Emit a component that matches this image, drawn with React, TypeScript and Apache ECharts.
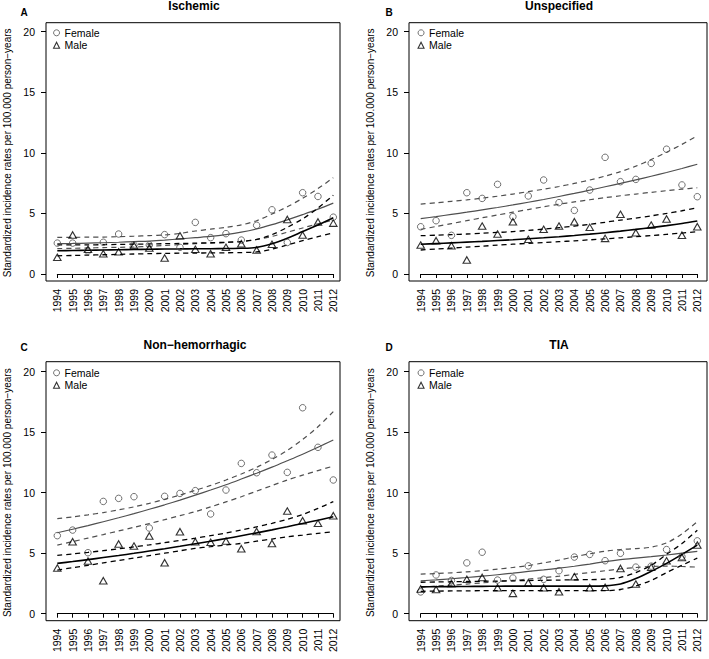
import React, { useEffect, useRef } from "react";
import * as echarts from "echarts";

const years = [1994, 1995, 1996, 1997, 1998, 1999, 2000, 2001, 2002, 2003, 2004, 2005, 2006, 2007, 2008, 2009, 2010, 2011, 2012];
const yTicks = [0, 5, 10, 15, 20];
const panelTitles = ["Ischemic", "Unspecified", "Non\u2212hemorrhagic", "TIA"];
const panelLetters = ["A", "B", "C", "D"];
const yAxisTitle = "Standardized incidence rates per 100.000 person\u2212years";
const legendNames = ["Female", "Male"];

// A: Ischemic
const femaleA = [2.55, 2.55, 1.9, 2.62, 3.3, 2.4, 2.4, 3.25, 2.2, 4.26, 3.0, 3.33, 2.8, 4.02, 5.3, 2.6, 6.71, 6.4, 4.69];
const maleA = [1.38, 3.22, 2.04, 1.68, 1.83, 2.36, 2.15, 1.32, 3.15, 2.04, 1.68, 2.2, 2.5, 1.98, 2.45, 4.5, 3.22, 4.3, 4.2];
const femaleFitA = [2.5, 2.52, 2.55, 2.58, 2.62, 2.67, 2.72, 2.8, 2.9, 3.0, 3.1, 3.25, 3.45, 3.72, 4.07, 4.47, 4.9, 5.35, 5.85];
const femaleUpA = [3.03, 3.03, 3.04, 3.05, 3.08, 3.12, 3.17, 3.22, 3.35, 3.55, 3.7, 3.85, 4.05, 4.4, 4.95, 5.55, 6.25, 7.05, 7.95];
const femaleLoA = [2.1, 2.12, 2.15, 2.18, 2.2, 2.23, 2.28, 2.35, 2.42, 2.5, 2.55, 2.6, 2.7, 2.85, 3.1, 3.45, 3.8, 4.15, 4.45];
const maleFitA = [1.92, 1.94, 1.96, 1.98, 2.0, 2.02, 2.04, 2.06, 2.07, 2.08, 2.09, 2.1, 2.12, 2.2, 2.5, 2.95, 3.5, 4.05, 4.65];
const maleUpA = [2.4, 2.4, 2.4, 2.42, 2.44, 2.46, 2.48, 2.5, 2.52, 2.55, 2.58, 2.62, 2.68, 2.85, 3.25, 3.85, 4.55, 5.45, 6.5];
const maleLoA = [1.5, 1.53, 1.56, 1.59, 1.62, 1.65, 1.68, 1.7, 1.72, 1.73, 1.74, 1.75, 1.77, 1.82, 2.05, 2.4, 2.75, 3.08, 3.4];

// B: Unspecified
const femaleB = [3.9, 4.4, 3.19, 6.71, 6.24, 7.4, 4.73, 6.44, 7.76, 5.89, 5.25, 6.93, 9.63, 7.62, 7.81, 9.13, 10.3, 7.35, 6.38];
const maleB = [2.39, 2.75, 2.34, 1.16, 3.96, 3.3, 4.32, 2.86, 3.69, 3.96, 4.32, 3.85, 2.94, 4.93, 3.41, 4.04, 4.54, 3.2, 3.9];
const femaleFitB = [4.57, 4.74, 4.92, 5.1, 5.29, 5.49, 5.7, 5.92, 6.15, 6.4, 6.65, 6.92, 7.2, 7.48, 7.77, 8.07, 8.38, 8.71, 9.06];
const femaleUpB = [5.77, 5.88, 6.0, 6.12, 6.26, 6.42, 6.6, 6.8, 7.0, 7.22, 7.48, 7.76, 8.08, 8.45, 8.9, 9.45, 10.05, 10.7, 11.4];
const femaleLoB = [3.68, 3.92, 4.16, 4.4, 4.64, 4.87, 5.1, 5.32, 5.55, 5.76, 5.95, 6.13, 6.3, 6.46, 6.6, 6.74, 6.88, 7.0, 7.12];
const maleFitB = [2.45, 2.51, 2.57, 2.63, 2.69, 2.76, 2.83, 2.91, 2.99, 3.08, 3.18, 3.29, 3.41, 3.54, 3.68, 3.83, 3.99, 4.17, 4.38];
const maleUpB = [3.16, 3.2, 3.25, 3.3, 3.36, 3.43, 3.5, 3.6, 3.7, 3.82, 3.95, 4.1, 4.27, 4.45, 4.62, 4.8, 5.0, 5.22, 5.47];
const maleLoB = [1.98, 2.06, 2.14, 2.22, 2.3, 2.38, 2.46, 2.53, 2.6, 2.67, 2.74, 2.82, 2.9, 2.99, 3.08, 3.17, 3.27, 3.38, 3.49];

// C: Non-hemorrhagic
const femaleC = [6.45, 6.91, 5.04, 9.28, 9.53, 9.67, 7.08, 9.7, 9.94, 10.17, 8.24, 10.22, 12.42, 11.65, 13.11, 11.68, 17.02, 13.75, 11.05];
const maleC = [3.77, 5.95, 4.35, 2.73, 5.76, 5.59, 6.42, 4.21, 6.78, 5.95, 5.9, 6.0, 5.37, 6.8, 5.81, 8.48, 7.69, 7.47, 8.1];
const femaleFitC = [6.69, 6.98, 7.28, 7.6, 7.93, 8.27, 8.63, 9.0, 9.39, 9.8, 10.22, 10.66, 11.13, 11.61, 12.11, 12.64, 13.18, 13.75, 14.35];
const femaleUpC = [7.85, 8.0, 8.17, 8.36, 8.58, 8.83, 9.12, 9.45, 9.8, 10.2, 10.6, 11.05, 11.55, 12.1, 12.75, 13.5, 14.4, 15.45, 16.7];
const femaleLoC = [5.67, 5.96, 6.25, 6.54, 6.84, 7.14, 7.45, 7.77, 8.1, 8.43, 8.83, 9.24, 9.67, 10.13, 10.59, 11.05, 11.45, 11.83, 12.2];
const maleFitC = [4.16, 4.31, 4.47, 4.64, 4.81, 4.99, 5.18, 5.37, 5.57, 5.78, 5.99, 6.21, 6.44, 6.68, 6.93, 7.19, 7.46, 7.73, 8.02];
const maleUpC = [4.82, 4.94, 5.07, 5.21, 5.36, 5.52, 5.69, 5.87, 6.05, 6.24, 6.45, 6.67, 6.91, 7.18, 7.47, 7.8, 8.2, 8.7, 9.26];
const maleLoC = [3.61, 3.8, 4.0, 4.2, 4.4, 4.6, 4.8, 5.0, 5.2, 5.4, 5.54, 5.68, 5.81, 5.99, 6.17, 6.36, 6.5, 6.64, 6.78];

// D: TIA
const femaleD = [1.8, 3.2, 2.75, 4.2, 5.08, 2.78, 2.95, 3.95, 2.84, 3.55, 4.68, 4.9, 4.38, 4.99, 3.85, 3.93, 5.3, 4.72, 6.02];
const maleD = [2.05, 2.0, 2.5, 2.84, 3.0, 2.15, 1.68, 2.55, 2.15, 1.82, 3.06, 2.15, 2.18, 3.74, 2.45, 3.83, 4.37, 4.65, 5.67];
const femaleFitD = [2.72, 2.8, 2.89, 2.99, 3.1, 3.22, 3.35, 3.49, 3.62, 3.76, 3.92, 4.1, 4.3, 4.47, 4.6, 4.72, 4.85, 5.0, 5.15];
const femaleUpD = [3.27, 3.32, 3.38, 3.46, 3.56, 3.68, 3.82, 3.98, 4.2, 4.43, 4.7, 4.95, 5.17, 5.3, 5.38, 5.5, 5.85, 6.6, 7.6];
const femaleLoD = [2.2, 2.28, 2.36, 2.45, 2.55, 2.65, 2.75, 2.86, 2.98, 3.1, 3.25, 3.4, 3.55, 3.7, 3.82, 3.9, 3.93, 3.9, 3.85];
const maleFitD = [2.22, 2.23, 2.24, 2.25, 2.26, 2.27, 2.28, 2.28, 2.28, 2.28, 2.28, 2.28, 2.3, 2.45, 2.9, 3.5, 4.16, 4.9, 5.67];
const maleUpD = [2.6, 2.62, 2.64, 2.66, 2.68, 2.7, 2.72, 2.74, 2.76, 2.78, 2.8, 2.82, 2.85, 3.0, 3.4, 4.0, 4.9, 5.8, 6.9];
const maleLoD = [1.85, 1.87, 1.88, 1.89, 1.9, 1.9, 1.9, 1.9, 1.9, 1.9, 1.9, 1.9, 1.9, 2.0, 2.3, 2.75, 3.4, 4.0, 4.6];

const panels = [
  { f: femaleA, m: maleA, ff: femaleFitA, fu: femaleUpA, fl: femaleLoA, mf: maleFitA, mu: maleUpA, ml: maleLoA },
  { f: femaleB, m: maleB, ff: femaleFitB, fu: femaleUpB, fl: femaleLoB, mf: maleFitB, mu: maleUpB, ml: maleLoB },
  { f: femaleC, m: maleC, ff: femaleFitC, fu: femaleUpC, fl: femaleLoC, mf: maleFitC, mu: maleUpC, ml: maleLoC },
  { f: femaleD, m: maleD, ff: femaleFitD, fu: femaleUpD, fl: femaleLoD, mf: maleFitD, mu: maleUpD, ml: maleLoD },
];

// layout (pixels)
const layout = [
  { gx: 57.3, gy: 31.7, gw: 276, gh: 242.3, bx: 46, by: 22.7, bw: 294, bh: 258.3, tx: 194, ty: 5.5, lx: 24, ly: 12, legX: 53, legY: 27.3, nameGap: 34 },
  { gx: 420.7, gy: 31.7, gw: 276.6, gh: 242.3, bx: 409, by: 22.7, bw: 298, bh: 258.3, tx: 559, ty: 5.5, lx: 389, ly: 12, legX: 417.5, legY: 27.3, nameGap: 34 },
  { gx: 57.3, gy: 371.7, gw: 276, gh: 242, bx: 46, by: 361.7, bw: 294, bh: 259, tx: 195, ty: 345, lx: 24, ly: 347, legX: 53, legY: 367.3, nameGap: 34 },
  { gx: 420.7, gy: 371.7, gw: 276.6, gh: 242, bx: 409, by: 361.7, bw: 298, bh: 259, tx: 559, ty: 345, lx: 389, ly: 347, legX: 417.5, legY: 367.3, nameGap: 34 },
];

const FONT = "'Liberation Sans', Arial, Helvetica, sans-serif";
const FEMALE = "#4f4f4f";
const MALE = "#000000";

export default function App() {
  const ref = useRef<HTMLDivElement>(null);
  useEffect(() => {
    if (!ref.current) return;
    const chart = echarts.init(ref.current, undefined, { renderer: "svg" });
    const pair = (arr: number[]) => years.map((y, i) => [y, arr[i]]);

    const grid: any[] = [];
    const xAxis: any[] = [];
    const yAxis: any[] = [];
    const series: any[] = [];
    const legend: any[] = [];
    const graphic: any[] = [];

    layout.forEach((L, p) => {
      const P = panels[p];
      grid.push({ left: L.gx, top: L.gy, width: L.gw, height: L.gh, show: false });
      xAxis.push({
        type: "value", gridIndex: p, min: 1994, max: 2012, interval: 1, offset: 10,
        axisLine: { show: true, lineStyle: { color: "#000", width: 1 } },
        axisTick: { show: true, length: 4, lineStyle: { color: "#000" } },
        axisLabel: { rotate: 90, fontSize: 10.5, color: "#000", fontFamily: FONT, margin: 5, formatter: (v: number) => String(v) },
        splitLine: { show: false },
      });
      yAxis.push({
        type: "value", gridIndex: p, min: 0, max: 20, interval: 5, offset: L.gx - L.bx,
        name: yAxisTitle, nameLocation: "middle", nameGap: L.nameGap,
        nameTextStyle: { fontSize: 10, color: "#000", fontFamily: FONT },
        axisLine: { show: false },
        axisTick: { show: true, length: 5, lineStyle: { color: "#000" } },
        axisLabel: { fontSize: 10.5, color: "#000", fontFamily: FONT, margin: 11, customValues: yTicks },
        splitLine: { show: false },
      });
      const common = { xAxisIndex: p, yAxisIndex: p, silent: true };
      series.push({
        ...common, type: "scatter", name: "Female", color: FEMALE, data: pair(P.f), symbol: "circle", symbolSize: 6.5,
        itemStyle: { color: "rgba(255,255,255,0)", borderColor: FEMALE, borderWidth: 1 }, z: 3,
      });
      series.push({
        ...common, type: "scatter", name: "Male", color: MALE, data: pair(P.m), symbol: "triangle", symbolSize: [7.5, 6.5],
        itemStyle: { color: "rgba(255,255,255,0)", borderColor: MALE, borderWidth: 1.1 }, z: 3,
      });
      const line = (name: string, arr: number[], color: string, width: number, dashed: boolean) => ({
        ...common, type: "line", name, color, data: pair(arr), showSymbol: false, symbol: "none", smooth: 0.3,
        lineStyle: { color, width, type: dashed ? [5, 4] : "solid" }, z: 2,
      });
      series.push(line("Female fit", P.ff, FEMALE, 1.2, false));
      series.push(line("Female upper", P.fu, FEMALE, 1.2, true));
      series.push(line("Female lower", P.fl, FEMALE, 1.2, true));
      series.push(line("Male fit", P.mf, MALE, 1.6, false));
      series.push(line("Male upper", P.mu, MALE, 1.3, true));
      series.push(line("Male lower", P.ml, MALE, 1.3, true));

      legend.push({
        left: L.legX, top: L.legY, orient: "vertical", padding: 0, itemGap: 1.5,
        itemWidth: 6, itemHeight: 6, selectedMode: false,
        textStyle: { fontSize: 10.5, color: "#000", fontFamily: FONT, padding: [0, 0, 0, 0] },
        data: [
          { name: legendNames[0], icon: "circle", itemStyle: { color: "rgba(255,255,255,0)", borderColor: FEMALE, borderWidth: 1 } },
          { name: legendNames[1], icon: "triangle", itemStyle: { color: "rgba(255,255,255,0)", borderColor: MALE, borderWidth: 1.1 } },
        ],
      });

      graphic.push({
        type: "rect", shape: { x: L.bx, y: L.by, width: L.bw, height: L.bh },
        style: { fill: "none", stroke: "#000", lineWidth: 1 }, silent: true, z: 1,
      });
      graphic.push({
        type: "text", x: L.tx, y: L.ty,
        style: { text: panelTitles[p], fontSize: 12, fontWeight: "bold", fontFamily: FONT, fill: "#000", align: "center", verticalAlign: "middle" },
      });
      graphic.push({
        type: "text", x: L.lx, y: L.ly,
        style: { text: panelLetters[p], fontSize: 10, fontWeight: "bold", fontFamily: FONT, fill: "#000", align: "center", verticalAlign: "middle" },
      });
    });

    chart.setOption({
      animation: false,
      backgroundColor: "#ffffff",
      textStyle: { fontFamily: FONT },
      grid, xAxis, yAxis, series, legend, graphic,
    });
    return () => chart.dispose();
  }, []);
  return <div ref={ref} style={{ position: "fixed", left: 0, top: 0, width: 709, height: 659 }} />;
}
